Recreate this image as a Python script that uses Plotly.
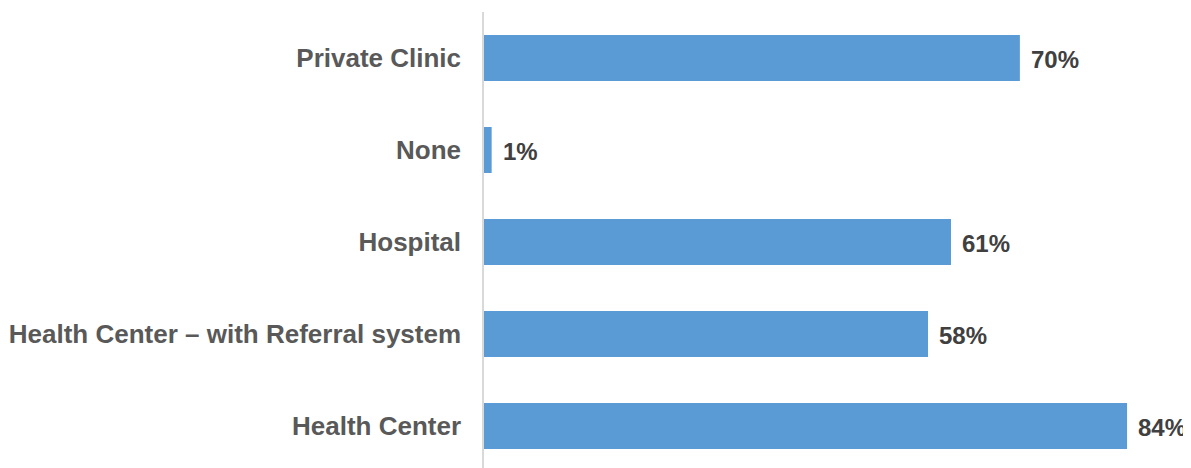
import plotly.graph_objects as go

categories = ["Health Center", "Health Center – with Referral system", "Hospital", "None", "Private Clinic"]
values = [84, 58, 61, 1, 70]
labels = [f"{v}%" for v in values]

fig = go.Figure()
fig.add_trace(go.Bar(
    x=values, y=categories, orientation="h",
    marker=dict(color="#5B9BD5", line=dict(width=0)),
    width=0.5, hoverinfo="skip",
))
for c, v, t in zip(categories, values, labels):
    fig.add_annotation(x=v, y=c, text=t, xanchor="left", yanchor="middle",
                       xshift=9, yshift=-1, showarrow=False,
                       font=dict(family="Liberation Sans, Arial", size=24, color="#404040", weight="bold"))

# page body has an 8px margin, so the figure is offset by 8px
fig.update_layout(
    width=1183, height=460,
    margin=dict(l=476, r=18, t=4, b=0),
    paper_bgcolor="white", plot_bgcolor="white",
    showlegend=False,
    xaxis=dict(range=[0, 90], showgrid=False, zeroline=False, showticklabels=False, showline=False),
    yaxis=dict(range=[-0.4565, 4.5], showgrid=False, zeroline=False,
               showline=True, linecolor="#D9D9D9", linewidth=1.5,
               ticks="", ticklabelstandoff=16,
               tickfont=dict(family="Liberation Sans, Arial", size=26, color="#595959", weight="bold")),
)
fig.write_html("out.html")
